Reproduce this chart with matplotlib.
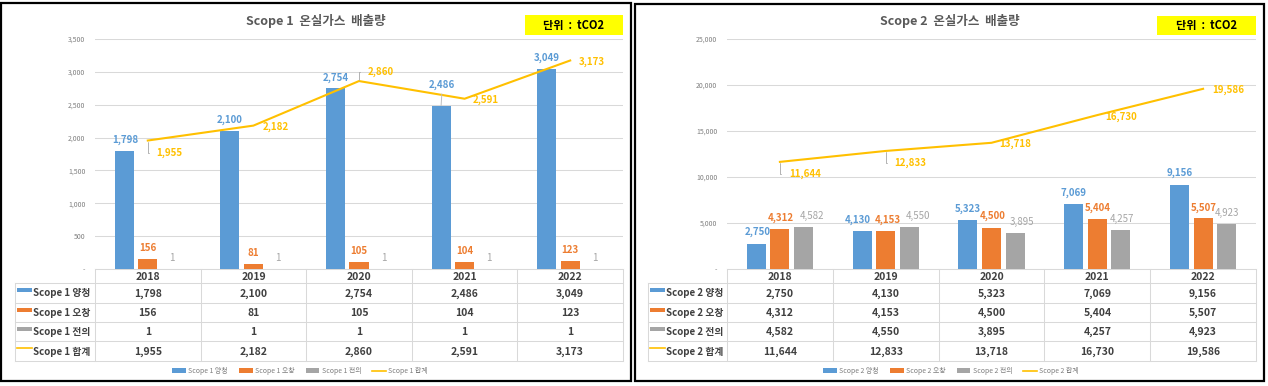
import matplotlib
matplotlib.use('Agg')
import matplotlib.pyplot as plt
from matplotlib.patches import Rectangle, Patch
from matplotlib.lines import Line2D
import numpy as np

plt.rcParams['font.family'] = ['Noto Sans CJK KR', 'DejaVu Sans']

years = ['2018', '2019', '2020', '2021', '2022']
sites = ['양청', '오창', '전의']

s1_yangcheong = [1798, 2100, 2754, 2486, 3049]
s1_ochang = [156, 81, 105, 104, 123]
s1_jeonui = [1, 1, 1, 1, 1]
s1_total = [1955, 2182, 2860, 2591, 3173]

s2_yangcheong = [2750, 4130, 5323, 7069, 9156]
s2_ochang = [4312, 4153, 4500, 5404, 5507]
s2_jeonui = [4582, 4550, 3895, 4257, 4923]
s2_total = [11644, 12833, 13718, 16730, 19586]

BLUE, ORANGE, GRAY, GOLD = '#5B9BD5', '#ED7D31', '#A5A5A5', '#FFC000'
TXT = '#404040'
GRID = '#D9D9D9'
W, H = 1268, 386
AX_TOP, AX_BOT = 39, 269
ROWS = [269, 283, 303, 322, 341, 361]

fig = plt.figure(figsize=(W / 100, H / 100), dpi=100)
bg = fig.add_axes([0, 0, 1, 1])
bg.set_xlim(0, W)
bg.set_ylim(H, 0)
bg.axis('off')


def pt(v):
    # pixels -> points
    return v * 0.72


def draw_panel(scope, bars, total, ymax, ystep, frame, plot_x, table_x0,
               title_x, box, legend_x, bar_offs, line_offs, leaders, bar_leader):
    x0, x1 = plot_x
    # frame
    bg.add_patch(Rectangle((frame[0], frame[1]), frame[2] - frame[0], frame[3] - frame[1],
                           fill=False, edgecolor='black', lw=1.6, zorder=5))
    # title + unit box
    bg.text(title_x, 21, f'Scope {scope}  온실가스  배출량', ha='center', va='center',
            fontsize=9, fontweight='bold', color='#595959')
    bg.add_patch(Rectangle((box[0], box[1]), box[2] - box[0], box[3] - box[1],
                           facecolor='#FFFF00', edgecolor='none'))
    bg.text((box[0] + box[2]) / 2, (box[1] + box[3]) / 2 + 0.5, '단위  :  tCO2', ha='center',
            va='center', fontsize=8, fontweight='bold', color='black')

    ax = fig.add_axes([x0 / W, (H - AX_BOT) / H, (x1 - x0) / W, (AX_BOT - AX_TOP) / H])
    ax.set_facecolor('none')
    ax.set_xlim(-0.5, 4.5)
    ax.set_ylim(0, ymax)
    for s in ax.spines.values():
        s.set_visible(False)
    ticks = np.arange(0, ymax + 1, ystep)
    ax.set_yticks(ticks)
    ax.set_yticklabels(['-' if t == 0 else f'{t:,}' for t in ticks])
    ax.tick_params(axis='y', length=0, pad=7, labelsize=5, labelcolor='#7F7F7F')
    ax.set_xticks([])
    ax.grid(axis='y', color=GRID, lw=0.75)
    ax.set_axisbelow(True)

    x = np.arange(len(years))
    colors = [BLUE, ORANGE, GRAY]
    weights = ['bold', 'bold', 'normal']
    for k, vals in enumerate(bars):
        pos = x + (k - 1) * 0.2225
        ax.bar(pos, vals, width=0.18, color=colors[k], zorder=2)
        for i, v in enumerate(vals):
            dx, dy = bar_offs[k][i]
            arrow = None
            if k == 0 and i == bar_leader:
                arrow = dict(arrowstyle='-', color='#BFBFBF', lw=0.7,
                             shrinkA=1, shrinkB=0, relpos=(0.5, 0))
            ax.annotate(f'{v:,}', (pos[i], v), xytext=(pt(dx), pt(dy)),
                        textcoords='offset points', ha='center', va='center',
                        fontsize=7, fontweight=weights[k], color=colors[k],
                        arrowprops=arrow, zorder=4)

    ax.plot(x, total, color=GOLD, lw=1.5, zorder=3)
    for i, v in enumerate(total):
        dx, dy = line_offs[i]
        arrow = None
        if i in leaders:
            arrow = dict(arrowstyle='-', color='#A6A6A6', lw=0.6,
                         connectionstyle='angle,angleA=0,angleB=90,rad=0',
                         shrinkA=pt(5), shrinkB=pt(1), relpos=(0, 0.5))
        ax.annotate(f'{v:,}', (x[i], v), xytext=(pt(dx), pt(dy)),
                    textcoords='offset points', ha='center', va='center',
                    fontsize=7, fontweight='bold', color=GOLD, arrowprops=arrow, zorder=4)

    # data table
    cols = np.linspace(x0, x1, len(years) + 1)
    lk = dict(color=GRID, lw=0.75)
    bg.plot([x0, x1], [ROWS[0], ROWS[0]], **lk)
    for yy in ROWS[1:]:
        bg.plot([table_x0, x1], [yy, yy], **lk)
    bg.plot([table_x0, table_x0], [ROWS[1], ROWS[-1]], **lk)
    for cx in cols:
        bg.plot([cx, cx], [ROWS[0], ROWS[-1]], **lk)
    centers = (cols[:-1] + cols[1:]) / 2
    ymid = [(ROWS[j] + ROWS[j + 1]) / 2 for j in range(len(ROWS) - 1)]
    for i, yr in enumerate(years):
        bg.text(centers[i], ymid[0] + 0.5, yr, ha='center', va='center',
                fontsize=7.5, fontweight='bold', color=TXT)
    table_rows = list(bars) + [total]
    names = [f'Scope {scope} {s}' for s in sites] + [f'Scope {scope} 합계']
    for r, vals in enumerate(table_rows):
        yc = ymid[r + 1]
        for i, v in enumerate(vals):
            bg.text(centers[i], yc + 0.5, f'{v:,}', ha='center', va='center',
                    fontsize=7.5, fontweight='bold', color=TXT)
        kx = table_x0 + 2
        if r < 3:
            bg.add_patch(Rectangle((kx, yc - 5), 15, 4, facecolor=colors[r], edgecolor='none'))
        else:
            bg.plot([kx, kx + 15], [yc - 3, yc - 3], color=GOLD, lw=1.2)
        bg.text(kx + 16, yc + 0.5, names[r], ha='left', va='center',
                fontsize=7, fontweight='bold', color=TXT)

    handles = [Patch(facecolor=c, edgecolor='none') for c in colors] + \
              [Line2D([], [], color=GOLD, lw=1.2)]
    ax.legend(handles, names, loc='center', ncol=4, frameon=False,
              bbox_to_anchor=(legend_x / W, 1 - 371 / H), bbox_transform=fig.transFigure,
              fontsize=5, handlelength=2.0, handleheight=0.55, handletextpad=0.3,
              columnspacing=1.6, labelcolor='#7F7F7F')
    return ax


# label offsets in pixels (dx, dy up)
s1_bar_offs = [
    [(1, 11), (0, 11), (0, 10), (1, 21), (0, 11)],
    [(0, 11)] * 5,
    [(1, 11)] * 5,
]
s1_line_offs = [(22, -12), (22, -1.5), (22, 9), (21, -1), (22, -1.5)]

s2_bar_offs = [
    [(1.5, 11.5), (-4.5, 11), (0, 11), (0, 11), (0, 12)],
    [(1, 11), (2, 11), (1, 11.5), (0.5, 11), (1, 10)],
    [(8.5, 11), (8.5, 11), (6.5, 11), (1, 11), (0.5, 11)],
]
s2_line_offs = [(25, -12), (25, -12), (24, -1), (24, -2), (25, -1)]

draw_panel(1, [s1_yangcheong, s1_ochang, s1_jeonui], s1_total, 3500, 500,
           frame=(1, 3, 631, 381), plot_x=(95, 623), table_x0=15, title_x=316,
           box=(525, 15, 623, 35), legend_x=300, bar_offs=s1_bar_offs,
           line_offs=s1_line_offs, leaders=[0, 2], bar_leader=3)

draw_panel(2, [s2_yangcheong, s2_ochang, s2_jeonui], s2_total, 25000, 5000,
           frame=(635, 4, 1264, 381), plot_x=(727, 1256), table_x0=648, title_x=950,
           box=(1157, 16, 1256, 35), legend_x=951, bar_offs=s2_bar_offs,
           line_offs=s2_line_offs, leaders=[0, 1], bar_leader=-1)

fig.savefig('out.png', dpi=100)
